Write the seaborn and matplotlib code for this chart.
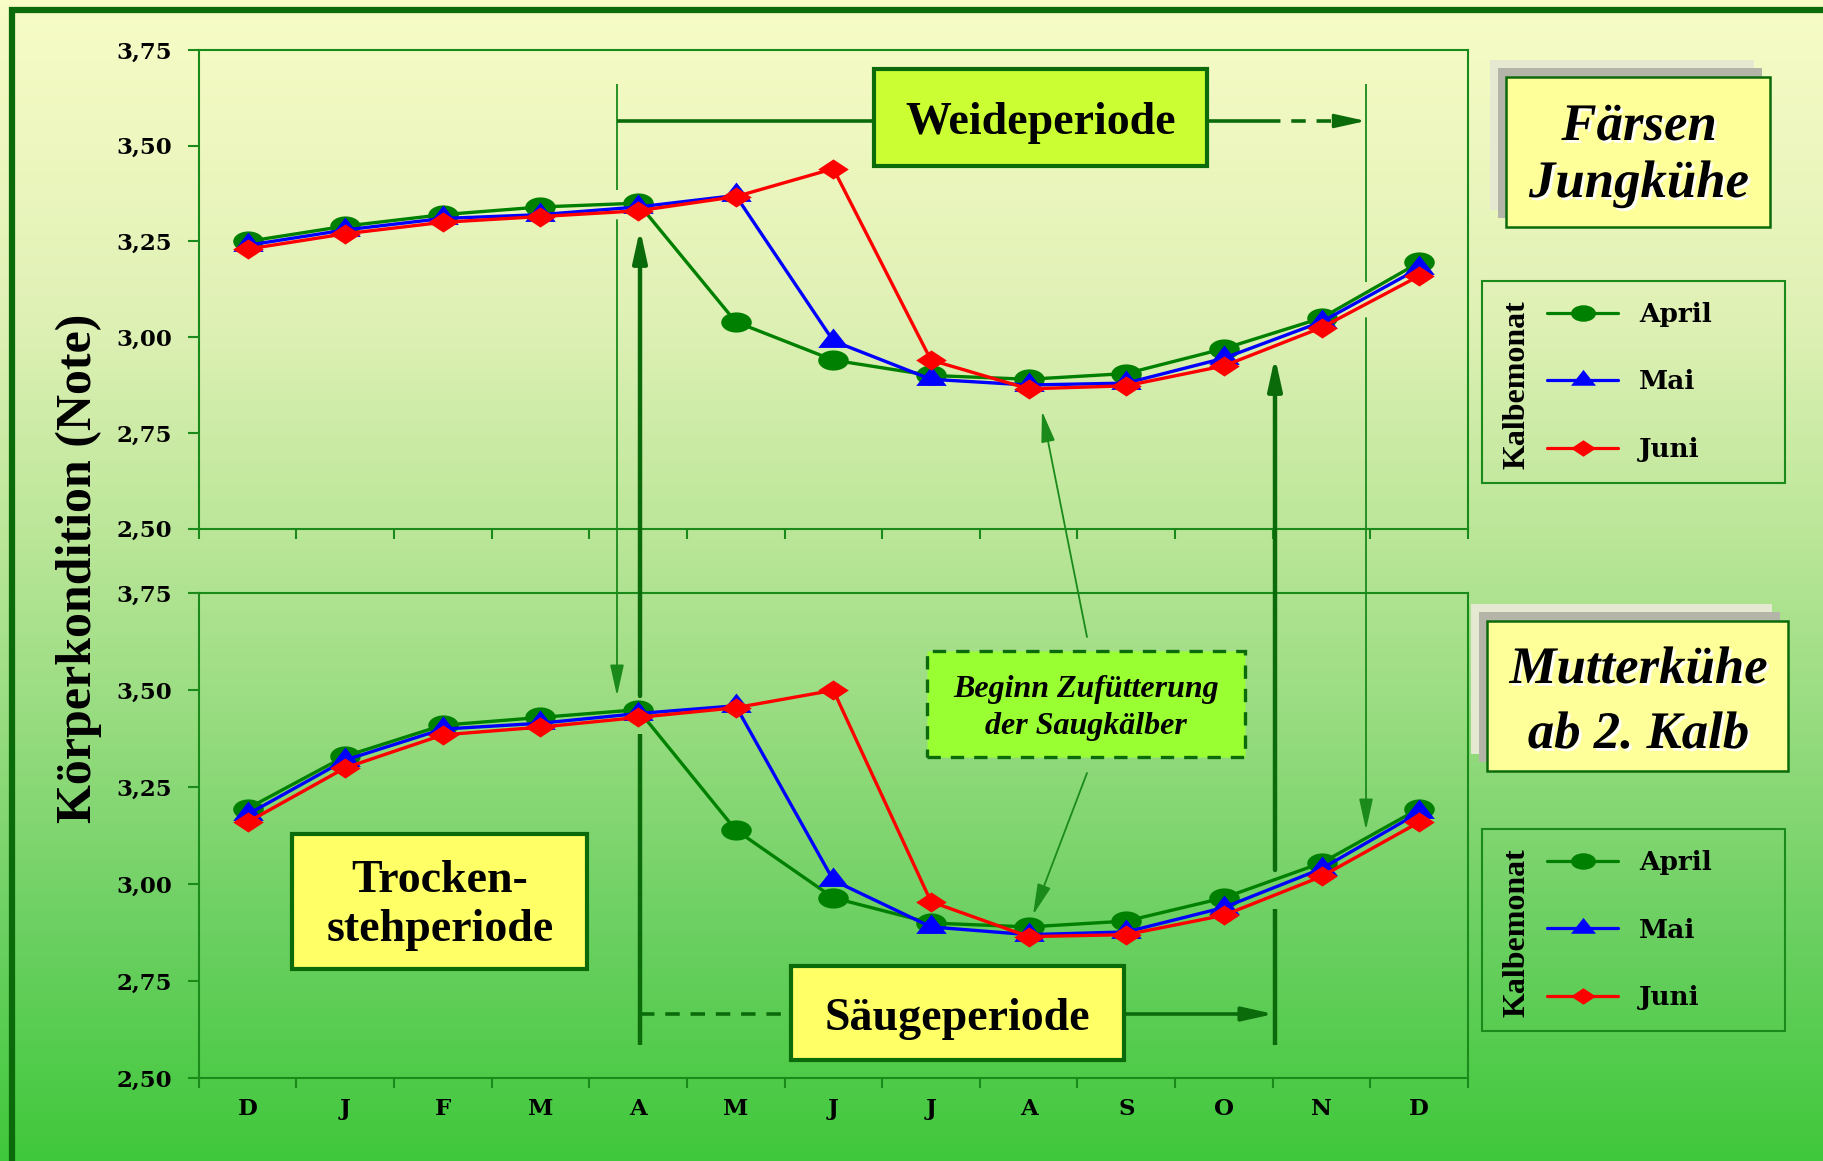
"""
Körperkondition von Färsen/Jungkühen und Mutterkühen nach Kalbemonat
"""

import numpy as np
import pandas as pd
import matplotlib
matplotlib.use("Agg")
import matplotlib.pyplot as plt
import matplotlib.patheffects as pe
import seaborn as sns
from matplotlib.path import Path
from matplotlib.transforms import Affine2D
from matplotlib.lines import Line2D
from matplotlib.patches import Rectangle, FancyArrowPatch
from matplotlib.colors import LinearSegmentedColormap

# ---------------
# data
months = ["D", "J", "F", "M", "A", "M", "J", "J", "A", "S", "O", "N", "D"]
kalbemonate = ["April", "Mai", "Juni"]
y_ticks = [2.50, 2.75, 3.00, 3.25, 3.50, 3.75]

faersen_april = [3.25, 3.29, 3.32, 3.34, 3.35, 3.04, 2.94, 2.90, 2.89, 2.905, 2.97, 3.05, 3.195]
faersen_mai = [3.24, 3.28, 3.31, 3.32, 3.34, 3.37, 2.99, 2.89, 2.875, 2.88, 2.945, 3.04, 3.18]
faersen_juni = [3.23, 3.27, 3.30, 3.315, 3.33, 3.367, 3.44, 2.94, 2.865, 2.873, 2.925, 3.025, 3.16]

mutter_april = [3.195, 3.33, 3.41, 3.43, 3.45, 3.14, 2.965, 2.90, 2.89, 2.905, 2.965, 3.055, 3.195]
mutter_mai = [3.18, 3.32, 3.40, 3.415, 3.44, 3.46, 3.01, 2.89, 2.87, 2.877, 2.94, 3.04, 3.185]
mutter_juni = [3.16, 3.30, 3.385, 3.405, 3.43, 3.455, 3.50, 2.955, 2.865, 2.87, 2.92, 3.02, 3.16]


def long_df(april, mai, juni):
    rows = []
    for name, vals in zip(kalbemonate, [april, mai, juni]):
        for i, v in enumerate(vals):
            rows.append({"pos": i, "Note": v, "Kalbemonat": name})
    return pd.DataFrame(rows)


df_top = long_df(faersen_april, faersen_mai, faersen_juni)
df_bot = long_df(mutter_april, mutter_mai, mutter_juni)

# ---------------
# style
W, H = 1823, 1161
sns.set_theme(style="white")
plt.rcParams["font.family"] = ["Liberation Serif", "DejaVu Serif"]
plt.rcParams["text.color"] = "black"
plt.rcParams["axes.labelcolor"] = "black"
plt.rcParams["xtick.color"] = "black"
plt.rcParams["ytick.color"] = "black"

GREEN_DARK = "#0b6b0b"
GREEN_LINE = "#1a8a1a"
palette = {"April": "#008000", "Mai": "#0000ff", "Juni": "#ff0000"}

# stretched markers (the chart in the picture is wider than tall)
ell = Path.unit_circle().transformed(Affine2D().scale(1.0, 0.66))
tri = Path([(-1, -0.42), (1, -0.42), (0, 0.85), (-1, -0.42)], closed=True)
dia = Path([(-1, 0), (0, 0.66), (1, 0), (0, -0.66), (-1, 0)], closed=True)
marker_map = {"April": ell, "Mai": tri, "Juni": dia}


def fx(x):
    return x / W


def fy(y):
    return 1 - y / H


def frect(x0, y0, x1, y1):
    return [fx(x0), fy(y1), (x1 - x0) / W, (y1 - y0) / H]


fig = plt.figure(figsize=(W / 100, H / 100), dpi=100)

# background gradient
bg = fig.add_axes([0, 0, 1, 1], zorder=-10)
cmap = LinearSegmentedColormap.from_list(
    "bg", [(0, "#f8fcc6"), (0.27, "#e0f1b6"), (0.45, "#bde79a"),
           (0.62, "#98dc80"), (0.8, "#6cd062"), (1.0, "#40c83c")])
bg.imshow(np.linspace(0, 1, 256).reshape(-1, 1), aspect="auto", cmap=cmap,
          extent=[0, 1, 0, 1], origin="upper")
bg.set_axis_off()

# outer frame
fig.add_artist(Rectangle((fx(12), fy(H + 40)), (W + 40) / W, (H + 40 - 9.5) / H,
                         transform=fig.transFigure, fill=False,
                         edgecolor=GREEN_DARK, linewidth=4.5, zorder=1))

ax_top = fig.add_axes(frect(198.7, 50, 1468, 528.6))
ax_bot = fig.add_axes(frect(198.7, 593.3, 1468, 1078.2))

for ax, df in ((ax_top, df_top), (ax_bot, df_bot)):
    sns.lineplot(data=df, x="pos", y="Note", hue="Kalbemonat", style="Kalbemonat",
                 hue_order=kalbemonate, style_order=kalbemonate,
                 palette=palette, markers=marker_map, dashes=False, sort=False,
                 legend=False, errorbar=None, ax=ax,
                 linewidth=2.4, markersize=22, markeredgewidth=0)
    ax.set_facecolor("none")
    ax.set_xlim(-0.5, 12.5)
    ax.set_ylim(2.5, 3.75)
    ax.set_yticks(y_ticks)
    ax.set_yticklabels([f"{t:.2f}".replace(".", ",") for t in y_ticks])
    ax.set_xticks(range(len(months)))
    ax.set_xticks(np.arange(-0.5, len(months), 1), minor=True)
    ax.set_xlabel("")
    ax.set_ylabel("")
    ax.tick_params(axis="x", which="major", bottom=True, length=0, pad=14)
    ax.tick_params(axis="x", which="minor", bottom=True, length=7, width=1.5,
                   color=GREEN_LINE, direction="out")
    ax.tick_params(axis="y", left=True, length=8, width=1.5, color=GREEN_LINE,
                   direction="out", pad=11)
    for s in ax.spines.values():
        s.set_visible(True)
        s.set_color(GREEN_LINE)
        s.set_linewidth(1.5)

ax_top.set_xticklabels([])
ax_bot.set_xticklabels(months)
for ax in (ax_top, ax_bot):
    for lab in ax.get_yticklabels() + ax.get_xticklabels():
        lab.set_fontfamily("DejaVu Serif")
        lab.set_fontweight("bold")
        lab.set_fontsize(16.5)
        lab.set_color("black")

fig.text(fx(79), fy(568), "Körperkondition (Note)", rotation=90, fontsize=36,
         fontweight="bold", ha="center", va="center", color="black")


# ---------------
# annotations (figure pixel coordinates)
def seg(x0, y0, x1, y1, lw, color, ls="-"):
    fig.add_artist(Line2D([fx(x0), fx(x1)], [fy(y0), fy(y1)], transform=fig.transFigure,
                          color=color, linewidth=lw, linestyle=ls, zorder=5,
                          solid_capstyle="butt", dash_capstyle="butt"))


def arrow(x0, y0, x1, y1, lw, color):
    fig.add_artist(FancyArrowPatch((fx(x0), fy(y0)), (fx(x1), fy(y1)),
                                   transform=fig.transFigure,
                                   arrowstyle="-|>,head_length=1.9,head_width=0.42",
                                   mutation_scale=10, linewidth=lw, color=color,
                                   shrinkA=0, shrinkB=0, zorder=5))


def box(x0, y0, x1, y1, face, lw=3, ls="-"):
    fig.add_artist(Rectangle((fx(x0), fy(y1)), (x1 - x0) / W, (y1 - y0) / H,
                             transform=fig.transFigure, facecolor=face,
                             edgecolor=GREEN_DARK, linewidth=lw, linestyle=ls, zorder=6))


def label(x, y, s, size, style="normal", effects=None):
    fig.text(fx(x), fy(y), s, fontsize=size, fontweight="bold", fontstyle=style,
             ha="center", va="baseline", zorder=7, color="black", path_effects=effects)


# thin vertical arrows
seg(617, 84, 617, 190, 1.3, GREEN_LINE)
arrow(617, 220, 617, 696, 1.3, GREEN_LINE)
seg(1366, 84, 1366, 282, 1.3, GREEN_LINE)
arrow(1366, 318, 1366, 830, 1.3, GREEN_LINE)

# thick vertical arrows
seg(640, 1045, 640, 734, 3.2, GREEN_DARK)
arrow(640, 696, 640, 229, 3.2, GREEN_DARK)
seg(1275, 1045, 1275, 909, 3.2, GREEN_DARK)
arrow(1275, 870, 1275, 357, 3.2, GREEN_DARK)

# Weideperiode
seg(617, 121, 874, 121, 2.6, GREEN_DARK)
seg(1207, 121, 1266, 121, 2.6, GREEN_DARK)
seg(1266, 121, 1342, 121, 2.6, GREEN_DARK, ls=(0, (4, 3)))
arrow(1338, 121, 1366, 121, 2.0, GREEN_DARK)
box(874, 69, 1207, 166, "#ccff33")
label(1041, 134, "Weideperiode", 33)

# Säugeperiode
seg(640, 1014, 790, 1014, 2.6, GREEN_DARK, ls=(0, (4, 3)))
arrow(1123, 1014, 1274, 1014, 2.6, GREEN_DARK)
box(791, 966, 1124, 1060, "#ffff66")
label(957, 1030, "Säugeperiode", 33)

# Trockenstehperiode
box(292, 834, 587, 969, "#ffff66")
label(440, 892, "Trocken-", 33)
label(440, 941, "stehperiode", 33)

# Beginn Zufütterung
arrow(1087, 637, 1042, 411, 1.3, GREEN_LINE)
arrow(1087, 773, 1033, 915, 1.3, GREEN_LINE)
box(927, 651, 1245, 757, "#99ff33", lw=2.4, ls=(0, (4, 3)))
label(1086, 697, "Beginn Zufütterung", 23, style="italic")
label(1086, 734, "der Saugkälber", 23, style="italic")

# group titles with shadow boxes
title_fx = [pe.withSimplePatchShadow(offset=(2, -2), shadow_rgbFace="white", alpha=0.9)]


def title_box(x0, y0, x1, y1, lines, baselines):
    fig.add_artist(Rectangle((fx(x0 - 16), fy(y1 - 17)), (x1 - x0) / W, (y1 - y0) / H,
                             transform=fig.transFigure, facecolor="#e6e9d2",
                             edgecolor="none", zorder=5))
    fig.add_artist(Rectangle((fx(x0 - 8), fy(y1 - 9)), (x1 - x0) / W, (y1 - y0) / H,
                             transform=fig.transFigure, facecolor="#b4b5a8",
                             edgecolor="none", zorder=5))
    box(x0, y0, x1, y1, "#ffff99", lw=1.8)
    for s, b in zip(lines, baselines):
        label((x0 + x1) / 2 + 1, b, s, 38, style="italic", effects=title_fx)


title_box(1506, 77, 1770, 227, ["Färsen", "Jungkühe"], [140, 197])
title_box(1487, 621, 1788, 771, ["Mutterkühe", "ab 2. Kalb"], [683, 748])

# legends
handles = [Line2D([], [], color=palette[k], marker=marker_map[k], markersize=18,
                  markeredgewidth=0, linewidth=2.3) for k in kalbemonate]
for top, mid in ((281, 382), (829, 930)):
    bottom = top + 202
    fig.add_artist(Rectangle((fx(1482), fy(bottom)), 303 / W, (bottom - top) / H,
                             transform=fig.transFigure, fill=False,
                             edgecolor=GREEN_LINE, linewidth=1.5, zorder=5))
    leg = fig.legend(handles, kalbemonate, loc="center left",
                     bbox_to_anchor=(fx(1547), fy(mid)), frameon=False,
                     borderpad=0, borderaxespad=0, handlelength=2.7, handletextpad=0.8,
                     labelspacing=1.62,
                     prop={"family": "DejaVu Serif", "weight": "bold", "size": 19})
    for t in leg.get_texts():
        t.set_color("black")
    fig.text(fx(1517), fy(mid + 3), "Kalbemonat", rotation=90, fontsize=23,
             fontweight="bold", ha="center", va="center", color="black")

plt.savefig("out.png", dpi=100)
